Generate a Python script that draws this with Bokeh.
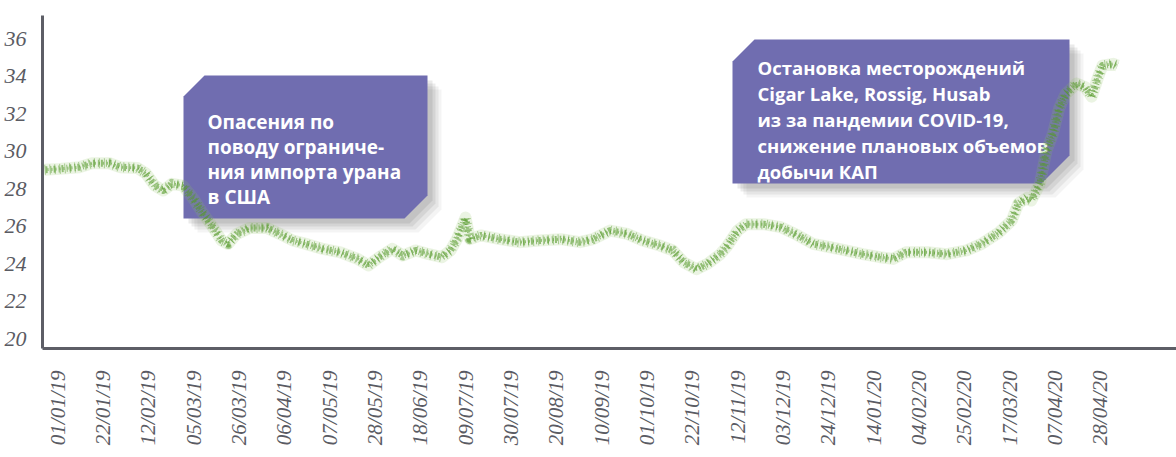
import math
import pandas as pd
from bokeh.plotting import figure
from bokeh.models import FixedTicker, Range1d
from bokeh.core.properties import value
from bokeh.embed import file_html
from bokeh.resources import INLINE

# ---------------- data ----------------
dates = ["2018-12-26", "2019-01-02", "2019-01-11", "2019-01-17", "2019-01-25", "2019-01-30",
         "2019-02-07", "2019-02-11", "2019-02-15", "2019-02-19", "2019-02-23", "2019-02-28",
         "2019-03-05", "2019-03-09", "2019-03-14", "2019-03-18", "2019-03-21", "2019-03-25",
         "2019-03-31", "2019-04-08", "2019-04-14", "2019-04-20", "2019-04-26", "2019-05-04",
         "2019-05-12", "2019-05-20", "2019-05-25", "2019-05-30", "2019-06-05", "2019-06-10",
         "2019-06-16", "2019-06-22", "2019-06-28", "2019-07-02", "2019-07-05", "2019-07-09",
         "2019-07-11", "2019-07-16", "2019-07-25", "2019-08-03", "2019-08-12", "2019-08-22",
         "2019-08-31", "2019-09-06", "2019-09-14", "2019-09-22", "2019-09-29", "2019-10-07",
         "2019-10-13", "2019-10-18", "2019-10-24", "2019-10-29", "2019-11-04", "2019-11-07",
         "2019-11-12", "2019-11-16", "2019-11-24", "2019-12-02", "2019-12-10", "2019-12-17",
         "2019-12-25", "2020-01-01", "2020-01-09", "2020-01-17", "2020-01-23", "2020-01-29",
         "2020-02-08", "2020-02-17", "2020-02-26", "2020-03-04", "2020-03-12", "2020-03-18",
         "2020-03-21", "2020-03-25", "2020-03-27", "2020-03-31", "2020-04-03", "2020-04-06",
         "2020-04-09", "2020-04-12", "2020-04-17", "2020-04-21", "2020-04-24", "2020-04-27",
         "2020-04-29", "2020-05-04", "2020-05-06"]
prices = [29.0, 29.05, 29.14, 29.35, 29.35, 29.14,
          29.1, 28.8, 28.16, 27.9, 28.25, 28.16,
          27.45, 26.74, 25.94, 25.23, 25.05, 25.58,
          25.9, 25.9, 25.58, 25.23, 25.05, 24.78,
          24.6, 24.25, 23.9, 24.34, 24.78, 24.43,
          24.7, 24.5, 24.34, 24.7, 25.3, 26.45,
          25.3, 25.5, 25.3, 25.14, 25.23, 25.3,
          25.14, 25.3, 25.76, 25.58, 25.23, 24.96,
          24.7, 24.07, 23.7, 23.98, 24.5, 24.9,
          25.76, 26.1, 26.1, 25.94, 25.5, 25.05,
          24.87, 24.7, 24.5, 24.34, 24.25, 24.6,
          24.6, 24.5, 24.7, 25.05, 25.65, 26.3,
          27.2, 27.5, 27.36, 28.25, 30.0, 30.9,
          32.3, 33.05, 33.6, 33.4, 32.9, 33.95,
          34.56, 34.65, 34.56]

tick_labels = ["01/01/19", "22/01/19", "12/02/19", "05/03/19", "26/03/19", "06/04/19",
               "07/05/19", "28/05/19", "18/06/19", "09/07/19", "30/07/19", "20/08/19",
               "10/09/19", "01/10/19", "22/10/19", "12/11/19", "03/12/19", "24/12/19",
               "14/01/20", "04/02/20", "25/02/20", "17/03/20", "07/04/20", "28/04/20"]
y_ticks = [20, 22, 24, 26, 28, 30, 32, 34, 36]

note1 = ["Опасения по", "поводу ограниче-", "ния импорта урана", "в США"]
note2 = ["Остановка месторождений", "Cigar Lake, Rossig, Husab",
         "из за пандемии COVID-19,", "снижение плановых объемов", "добычи КАП"]

# ---------------- layout ----------------
W, H = 1176, 457
FL, FR, FT, FB = 42, 1176, 15, 348       # frame edges in pixels
origin = pd.Timestamp("2019-01-01")
days = [(pd.Timestamp(d) - origin).days for d in dates]

x0, x1 = -6.95, 518.3
y0, y1 = 19.47, 37.23

def px_x(px):
    return x0 + (px - FL) * (x1 - x0) / (FR - FL)

def px_y(py):
    return y0 + (FB - py) * (y1 - y0) / (FB - FT)

p = figure(width=W, height=H, output_backend="svg", toolbar_location=None,
           x_range=Range1d(x0, x1), y_range=Range1d(y0, y1),
           min_border_left=FL, min_border_right=0, min_border_top=FT,
           min_border_bottom=H - FB)
p.outline_line_color = None
p.grid.visible = False
p.background_fill_color = "white"
p.border_fill_color = "white"

# ---------------- callouts ----------------
purple = "#706db0"

def callout(l, t, r, b, c1, c2, lines, tx, base0, step, size):
    for k, (off, a) in enumerate([(14, 0.05), (11, 0.07), (8, 0.09), (5, 0.1)]):
        sx = [l + off, l + c1 + off, r + off, r + off, r - c2 + off, l + off]
        sy = [t + c1 + off, t + off, t + off, b - c2 + off, b + off, b + off]
        p.patch([px_x(v) for v in sx], [px_y(v) for v in sy], fill_color="#303030",
                fill_alpha=a, line_color=None)
    xs = [l, l + c1, r, r, r - c2, l]
    ys = [t + c1, t, t, b - c2, b, b]
    p.patch([px_x(v) for v in xs], [px_y(v) for v in ys], fill_color=purple,
            line_color=None)
    p.text(x=[px_x(tx)] * len(lines),
           y=[px_y(base0 + i * step) for i in range(len(lines))],
           text=lines, text_color="white", text_font=value("Open Sans"),
           text_font_style="bold", text_font_size=size,
           text_align="left", text_baseline="alphabetic")

callout(183, 75, 427, 218, 21, 23, note1, 207, 121, 25, "19px")
callout(732, 39, 1069, 183, 22, 28, note2, 757, 67, 26, "18.5px")

# ---------------- line (sprayed look, drawn over the callouts) ----------------
green = "#55992a"
p.line(days, prices, line_color="#8fc466", line_width=12, line_alpha=0.18, line_join="round")
p.line(days, prices, line_color=green, line_width=10, line_alpha=0.45, line_dash="1 4",
       line_join="round")
p.line(days, prices, line_color=green, line_width=7, line_alpha=0.6, line_dash="1 2 2 3",
       line_dash_offset=2, line_join="round")
p.line(days, prices, line_color=green, line_width=3, line_alpha=0.65, line_dash="1 3",
       line_dash_offset=1, line_join="round")

# ---------------- axes ----------------
axis_col = "#5d5e66"
label_col = "#5a5b63"
p.xaxis.ticker = FixedTicker(ticks=[21 * i for i in range(len(tick_labels))])
p.xaxis.major_label_overrides = {21 * i: lab for i, lab in enumerate(tick_labels)}
p.xaxis.major_label_orientation = math.pi / 2
p.yaxis.ticker = FixedTicker(ticks=y_ticks)

for ax in (p.xaxis, p.yaxis):
    ax.axis_line_color = axis_col
    ax.axis_line_width = 3
    ax.major_tick_line_color = None
    ax.minor_tick_line_color = None
    ax.major_label_text_font = "Liberation Sans Narrow"
    ax.major_label_text_font_style = "italic"
    ax.major_label_text_color = label_col
    ax.major_label_text_font_size = "21px"
p.yaxis.major_label_text_font_size = "22px"
p.yaxis.major_label_standoff = 10
p.xaxis.major_label_standoff = 16

open("out.html", "w").write(file_html(p, INLINE))
